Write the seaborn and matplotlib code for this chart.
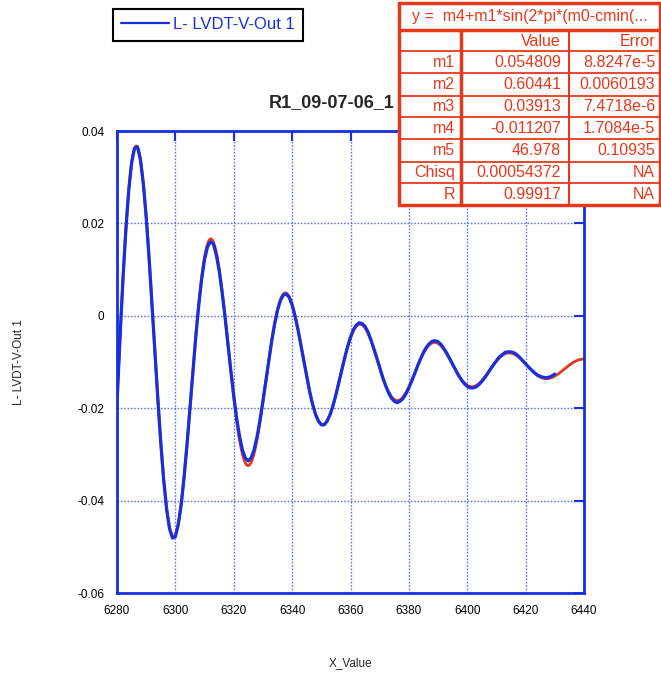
import numpy as np
import pandas as pd
import matplotlib
matplotlib.use("Agg")
import matplotlib.pyplot as plt
from matplotlib.patches import Rectangle
import seaborn as sns

# ---- measured LVDT signal (one sample per X unit) ----
x_value = np.arange(6280, 6431)
lvdt_out = [
    -0.0190, -0.0051, 0.0074, 0.0183, 0.0270, 0.0331, 0.0362, 0.0366, 0.0339, 0.0287,
    0.0214, 0.0124, 0.0024, -0.0079, -0.0181, -0.0275, -0.0356, -0.0419, -0.0461, -0.0481,
    -0.0478, -0.0452, -0.0409, -0.0349, -0.0278, -0.0200, -0.0120, -0.0045, 0.0022, 0.0079,
    0.0122, 0.0149, 0.0160, 0.0156, 0.0132, 0.0098, 0.0051, -0.0002, -0.0060, -0.0119,
    -0.0173, -0.0222, -0.0261, -0.0291, -0.0308, -0.0314, -0.0307, -0.0289, -0.0261, -0.0225,
    -0.0184, -0.0141, -0.0097, -0.0055, -0.0018, 0.0012, 0.0033, 0.0045, 0.0047, 0.0040,
    0.0023, -0.0001, -0.0030, -0.0063, -0.0097, -0.0131, -0.0164, -0.0191, -0.0213, -0.0228,
    -0.0236, -0.0236, -0.0228, -0.0214, -0.0195, -0.0171, -0.0145, -0.0118, -0.0091, -0.0067,
    -0.0046, -0.0030, -0.0020, -0.0015, -0.0017, -0.0023, -0.0035, -0.0052, -0.0071, -0.0091,
    -0.0112, -0.0133, -0.0151, -0.0166, -0.0178, -0.0185, -0.0188, -0.0185, -0.0179, -0.0169,
    -0.0156, -0.0141, -0.0125, -0.0108, -0.0093, -0.0079, -0.0068, -0.0060, -0.0055, -0.0054,
    -0.0056, -0.0062, -0.0071, -0.0081, -0.0093, -0.0105, -0.0117, -0.0129, -0.0139, -0.0147,
    -0.0153, -0.0156, -0.0156, -0.0154, -0.0149, -0.0142, -0.0134, -0.0125, -0.0115, -0.0106,
    -0.0097, -0.0089, -0.0084, -0.0079, -0.0078, -0.0078, -0.0080, -0.0084, -0.0090, -0.0097,
    -0.0104, -0.0111, -0.0117, -0.0123, -0.0128, -0.0131, -0.0133, -0.0134, -0.0133, -0.0130,
    -0.0126,
]

# ---- damped-sine fit parameters ----
m1 = 0.054809
m2 = 0.60441
m3 = 0.03913
m4 = -0.011207
m5 = 46.978
cmin = 6283.0        # phase origin
decay_origin = 6280.5
fit_range = (6280, 6440)

fit_names = ["m1", "m2", "m3", "m4", "m5", "Chisq", "R"]
fit_values = ["0.054809", "0.60441", "0.03913", "-0.011207", "46.978", "0.00054372", "0.99917"]
fit_errors = ["8.8247e-5", "0.0060193", "7.4718e-6", "1.7084e-5", "0.10935", "NA", "NA"]
fit_formula = "y =  m4+m1*sin(2*pi*(m0-cmin(..."

x_ticks = [6280, 6300, 6320, 6340, 6360, 6380, 6400, 6420, 6440]
y_ticks = [-0.06, -0.04, -0.02, 0, 0.02, 0.04]
y_tick_labels = ["-0.06", "-0.04", "-0.02", "0", "0.02", "0.04"]

series_name = "L- LVDT-V-Out 1"
title = "R1_09-07-06_1"

# ---- style ----
sns.set_style("white")
plt.rcParams["font.family"] = ["Liberation Sans", "DejaVu Sans"]
plt.rcParams["axes.unicode_minus"] = False

BLUE = "#1630e0"
GRID = "#5f72ee"
RED = "#e8381c"

W, H = 661, 677
fig = plt.figure(figsize=(W / 100, H / 100), dpi=100)
ax = fig.add_axes([117 / W, 1 - 593 / H, (584 - 117) / W, (593 - 131) / H])

fit_x = np.linspace(fit_range[0], fit_range[1], 800)
fit_y = m4 + m1 * np.sin(2 * np.pi * (fit_x - cmin) * m3 + m2) * np.exp(-(fit_x - decay_origin) / m5)

fit_df = pd.DataFrame({"X_Value": fit_x, "fit": fit_y})
data_df = pd.DataFrame({"X_Value": x_value, "signal": lvdt_out})

sns.lineplot(data=fit_df, x="X_Value", y="fit", ax=ax, color=RED, linewidth=2.0,
             estimator=None, sort=False)
sns.lineplot(data=data_df, x="X_Value", y="signal", ax=ax, color=BLUE, linewidth=2.3,
             estimator=None, sort=False)
data_line = ax.lines[-1]

ax.set_xlim(6280, 6440)
ax.set_ylim(-0.06, 0.04)
ax.set_xticks(x_ticks)
ax.set_xticklabels([str(t) for t in x_ticks])
ax.set_yticks(y_ticks)
ax.set_yticklabels(y_tick_labels)

ax.grid(True, color=GRID, linestyle=(0, (1.2, 1.2)), linewidth=1.0)
ax.set_axisbelow(True)
for s in ax.spines.values():
    s.set_color(BLUE)
    s.set_linewidth(2.0)
ax.tick_params(axis="both", direction="in", length=7, width=1.5, color=BLUE,
               top=True, right=True, labelsize=8.5, labelcolor="black", pad=9)

ax.set_xlabel("X_Value", fontsize=8.5)
ax.set_ylabel(series_name, fontsize=8.5)
ax.xaxis.set_label_coords(0.5, -(663 - 593) / 462)
ax.xaxis.label.set_va("center")
ax.yaxis.set_label_coords(-(117 - 19) / 467, 0.5)
ax.yaxis.label.set_va("center")

leg = ax.legend(handles=[data_line], labels=[series_name], loc="upper left",
                bbox_to_anchor=(113 / W, 1 - 9 / H), bbox_transform=fig.transFigure,
                frameon=True, fancybox=False, framealpha=1, edgecolor="black",
                borderaxespad=0, borderpad=0.5, handlelength=2.85, handletextpad=0.25,
                fontsize=12)
leg.get_frame().set_linewidth(1.5)
leg.get_lines()[0].set_linewidth(1.6)
for t in leg.get_texts():
    t.set_color(BLUE)

fig.text(269 / W, 1 - 103 / H, title, ha="left", va="center", fontsize=13,
         fontweight="bold")

# ---- fit results table ----
ov = fig.add_axes([0, 0, 1, 1], zorder=10)
ov.set_xlim(0, W)
ov.set_ylim(H, 0)
ov.axis("off")
ov.patch.set_alpha(0)

tx0, tx1, ty0, ty1 = 399, 660, 3, 205
ov.add_patch(Rectangle((tx0, ty0), tx1 - tx0, ty1 - ty0, facecolor="white",
                       edgecolor=RED, linewidth=2.5))
row_lines = [30, 51, 73.3, 95.7, 117.3, 139.3, 161.7, 183.3]
ov.plot([tx0, tx1], [row_lines[0], row_lines[0]], color=RED, linewidth=2.5)
for yl in row_lines[1:]:
    ov.plot([tx0, tx1], [yl, yl], color=RED, linewidth=1.3)
ov.plot([461, 461], [30, ty1], color=RED, linewidth=2.5)
ov.plot([569, 569], [30, ty1], color=RED, linewidth=1.5)

ov.text((tx0 + tx1) / 2, 16.5, fit_formula, color=RED, fontsize=11.5,
        ha="center", va="center")
ov.text(561, 41, "Value", color=RED, fontsize=11.5, ha="right", va="center")
ov.text(655, 41, "Error", color=RED, fontsize=11.5, ha="right", va="center")
for i, (nm, v, e) in enumerate(zip(fit_names, fit_values, fit_errors)):
    yc = (row_lines[i + 1] + (row_lines[i + 2] if i + 2 < len(row_lines) else ty1)) / 2
    ov.text(455, yc, nm, color=RED, fontsize=11.5, ha="right", va="center")
    ov.text(561, yc, v, color=RED, fontsize=11.5, ha="right", va="center")
    ov.text(655, yc, e, color=RED, fontsize=11.5, ha="right", va="center")

fig.savefig("out.png", dpi=100)
